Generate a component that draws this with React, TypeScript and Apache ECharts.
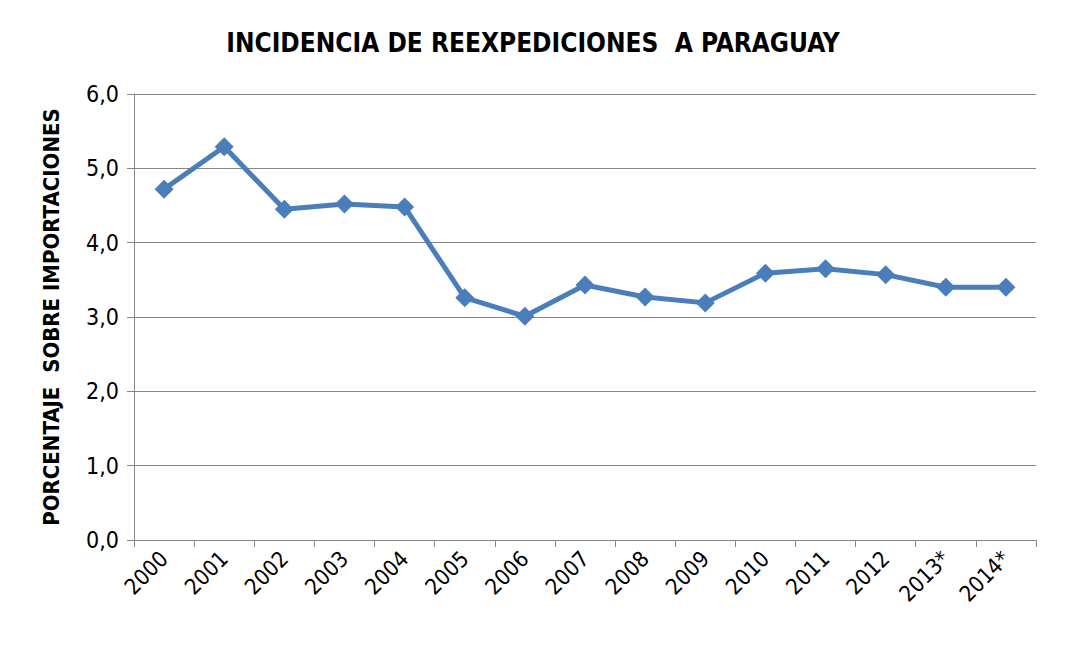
import React, { useEffect, useRef } from "react";
import * as echarts from "echarts";

const categories = ["2000", "2001", "2002", "2003", "2004", "2005", "2006", "2007", "2008", "2009", "2010", "2011", "2012", "2013*", "2014*"];
const values = [4.72, 5.29, 4.45, 4.52, 4.48, 3.26, 3.01, 3.43, 3.27, 3.19, 3.59, 3.65, 3.57, 3.40, 3.40];
const yTicks = { min: 0, max: 6, interval: 1 };

const FONT = "'Liberation Sans Narrow', 'DejaVu Sans Condensed', 'Liberation Sans', sans-serif";

export default function App() {
  const ref = useRef<HTMLDivElement>(null);
  useEffect(() => {
    if (!ref.current) return;
    const chart = echarts.init(ref.current, null, { renderer: "svg" });
    chart.setOption({
      animation: false,
      backgroundColor: "#ffffff",
      title: {
        text: "INCIDENCIA DE REEXPEDICIONES  A PARAGUAY",
        left: "center",
        top: 24,
        textStyle: { fontFamily: FONT, fontWeight: "bold", fontSize: 26, color: "#000" },
      },
      graphic: [
        {
          type: "rect",
          shape: { x: 1, y: 1, width: 1062, height: 645 },
          style: { fill: "none", stroke: "#898989", lineWidth: 1.5 },
          silent: true,
          z: 100,
        },
      ],
      grid: { left: 133, right: 29, top: 93, bottom: 108, containLabel: false },
      xAxis: {
        type: "category",
        data: categories,
        boundaryGap: true,
        axisLine: { lineStyle: { color: "#868686", width: 1 } },
        axisTick: { show: true, length: 7, lineStyle: { color: "#868686" } },
        axisLabel: {
          rotate: 45,
          interval: 0,
          fontFamily: FONT,
          fontSize: 22,
          color: "#000",
          margin: 15,
        },
      },
      yAxis: {
        type: "value",
        min: yTicks.min,
        max: yTicks.max,
        interval: yTicks.interval,
        name: "PORCENTAJE  SOBRE IMPORTACIONES",
        nameLocation: "middle",
        nameGap: 72,
        nameRotate: 90,
        nameTextStyle: { fontFamily: FONT, fontWeight: "bold", fontSize: 22, color: "#000" },
        axisLine: { show: true, lineStyle: { color: "#868686", width: 1 } },
        axisTick: { show: true, length: 7, lineStyle: { color: "#868686" } },
        splitLine: { show: true, lineStyle: { color: "#868686", width: 1 } },
        axisLabel: {
          fontFamily: FONT,
          fontSize: 23,
          color: "#000",
          margin: 15,
          formatter: (v: number) => v.toFixed(1).replace(".", ","),
        },
      },
      series: [
        {
          type: "line",
          data: values,
          symbol: "diamond",
          symbolSize: 19,
          lineStyle: { color: "#4A7EBB", width: 5 },
          itemStyle: { color: "#4A7EBB" },
        },
      ],
    });
    return () => chart.dispose();
  }, []);
  return (
    <div style={{ margin: -8, width: 1066, height: 649, boxSizing: "border-box", border: "1px solid #898989", background: "#fff" }}>
      <div ref={ref} style={{ width: 1064, height: 647 }} />
    </div>
  );
}
